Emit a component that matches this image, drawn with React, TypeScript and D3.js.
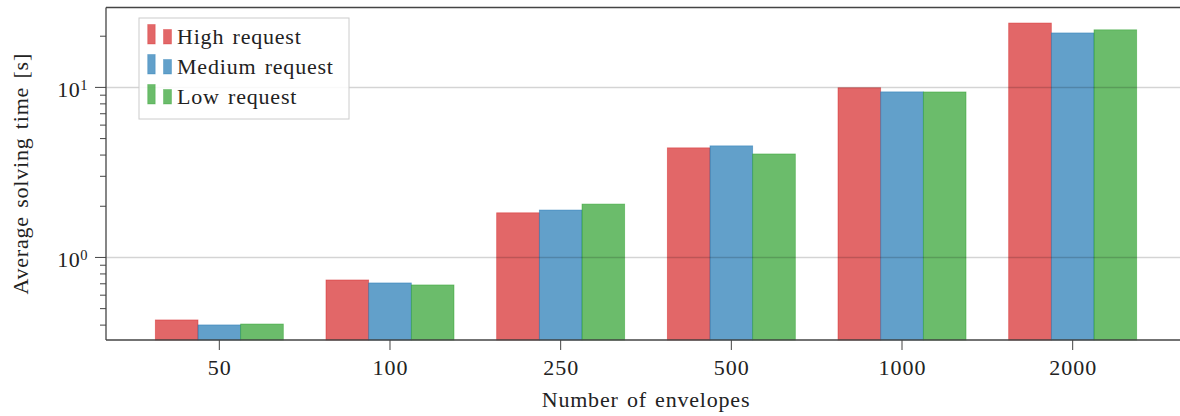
import React from "react";
import * as d3 from "d3";

const categories = ["50", "100", "250", "500", "1000", "2000"];
const seriesNames = ["High request", "Medium request", "Low request"];
const highValues = [0.429, 0.737, 1.83, 4.41, 9.95, 23.9];
const mediumValues = [0.401, 0.708, 1.9, 4.53, 9.41, 20.9];
const lowValues = [0.406, 0.689, 2.06, 4.06, 9.4, 21.8];
const seriesColors = ["#d62728", "#1f77b4", "#2ca02c"];
const yDomain = [0.327, 29.5];
const majorTicks = [1, 10];
const xTitle = "Number of envelopes";
const yTitle = "Average solving time [s]";

const W = 1180;
const H = 416;
const M = { left: 106, right: 1186, top: 7.5, bottom: 340 };
const FONT = "'Liberation Serif', 'DejaVu Serif', serif";
const TXT = "#222";
const SPINE = "#444";
const LS = 0.8;
const WS = 2;

export default function App() {
  const seriesValues = [highValues, mediumValues, lowValues];
  const x = d3
    .scaleBand<string>()
    .domain(categories)
    .range([M.left, M.right])
    .paddingInner(0.25)
    .paddingOuter(0.289);
  const xs = d3
    .scaleBand<string>()
    .domain(seriesNames)
    .range([0, x.bandwidth()])
    .padding(0);
  const y = d3.scaleLog().domain(yDomain).range([M.bottom, M.top]);

  const minorTicks: number[] = [];
  for (const dec of [0.1, 1, 10]) {
    for (let k = 2; k <= 9; k++) {
      const v = k * dec;
      if (v >= yDomain[0] && v <= yDomain[1]) minorTicks.push(v);
    }
  }

  return (
    <svg
      width={W}
      height={H}
      style={{ position: "absolute", left: 0, top: 0, background: "#fff" }}
      fontFamily={FONT}
    >
      <rect x={0} y={0} width={W} height={H} fill="#fff" />
      {/* bars */}
      {seriesValues.map((vals, si) => (
        <g key={si}>
          {vals.map((v, ci) => {
            const bx = (x(categories[ci]) ?? 0) + (xs(seriesNames[si]) ?? 0);
            const by = y(v);
            return (
              <rect
                key={ci}
                x={bx}
                y={by}
                width={xs.bandwidth()}
                height={M.bottom - by}
                fill={seriesColors[si]}
                fillOpacity={0.7}
                stroke={seriesColors[si]}
                strokeOpacity={0.55}
                strokeWidth={0.8}
              />
            );
          })}
        </g>
      ))}
      {/* grid */}
      {majorTicks.map((t) => (
        <line
          key={t}
          x1={M.left}
          x2={M.right}
          y1={y(t)}
          y2={y(t)}
          stroke="#000"
          strokeOpacity={0.17}
          strokeWidth={1.5}
        />
      ))}
      {/* spines */}
      <line x1={M.left} x2={M.right} y1={M.top} y2={M.top} stroke={SPINE} strokeWidth={1.3} />
      <line x1={M.left} x2={M.right} y1={M.bottom} y2={M.bottom} stroke={SPINE} strokeWidth={1.3} />
      <line x1={M.left} x2={M.left} y1={M.top} y2={M.bottom} stroke={SPINE} strokeWidth={1.3} />
      <line x1={M.right} x2={M.right} y1={M.top} y2={M.bottom} stroke={SPINE} strokeWidth={1.3} />
      {/* y ticks */}
      {minorTicks.map((t) => (
        <line key={"m" + t} x1={M.left - 6} x2={M.left} y1={y(t)} y2={y(t)} stroke={SPINE} strokeWidth={1} />
      ))}
      {majorTicks.map((t) => (
        <g key={"M" + t}>
          <line x1={M.left - 11} x2={M.left} y1={y(t)} y2={y(t)} stroke={SPINE} strokeWidth={1} />
          <text x={88} y={y(t) + 10} textAnchor="end" fontSize={22} fill={TXT} letterSpacing={0.5}>
            10
            <tspan fontSize={14.5} dy={-7.3}>
              {Math.round(Math.log10(t))}
            </tspan>
          </text>
        </g>
      ))}
      {/* x ticks */}
      {categories.map((c) => {
        const cx = (x(c) ?? 0) + x.bandwidth() / 2;
        return (
          <g key={c}>
            <line x1={cx} x2={cx} y1={M.bottom} y2={M.bottom + 10} stroke={SPINE} strokeWidth={1} />
            <text x={cx + 0.5} y={375} textAnchor="middle" fontSize={22} fill={TXT} letterSpacing={1}>
              {c}
            </text>
          </g>
        );
      })}
      {/* titles */}
      <text
        x={(M.left + M.right) / 2}
        y={406.7}
        textAnchor="middle"
        fontSize={22}
        fill={TXT}
        letterSpacing={LS}
        wordSpacing={WS}
      >
        {xTitle}
      </text>
      <text
        transform={`translate(28,${(M.top + M.bottom) / 2}) rotate(-90)`}
        textAnchor="middle"
        fontSize={22}
        fill={TXT}
        letterSpacing={LS}
        wordSpacing={WS}
      >
        {yTitle}
      </text>
      {/* legend */}
      <g>
        <rect x={139} y={18} width={210} height={101} fill="#fff" fillOpacity={0.85} stroke="#ccc" strokeWidth={1} />
        {seriesNames.map((name, i) => {
          const base = 44 + i * 30;
          return (
            <g key={name}>
              <rect
                x={147.7}
                y={base - 19.5}
                width={7.5}
                height={19.5}
                fill={seriesColors[i]}
                fillOpacity={0.7}
                stroke={seriesColors[i]}
                strokeOpacity={0.4}
                strokeWidth={0.8}
              />
              <rect
                x={163.5}
                y={base - 14.5}
                width={8}
                height={14.5}
                fill={seriesColors[i]}
                fillOpacity={0.7}
                stroke={seriesColors[i]}
                strokeOpacity={0.4}
                strokeWidth={0.8}
              />
              <text x={177} y={base} fontSize={22} fill={TXT} letterSpacing={LS} wordSpacing={WS}>
                {name}
              </text>
            </g>
          );
        })}
      </g>
    </svg>
  );
}
